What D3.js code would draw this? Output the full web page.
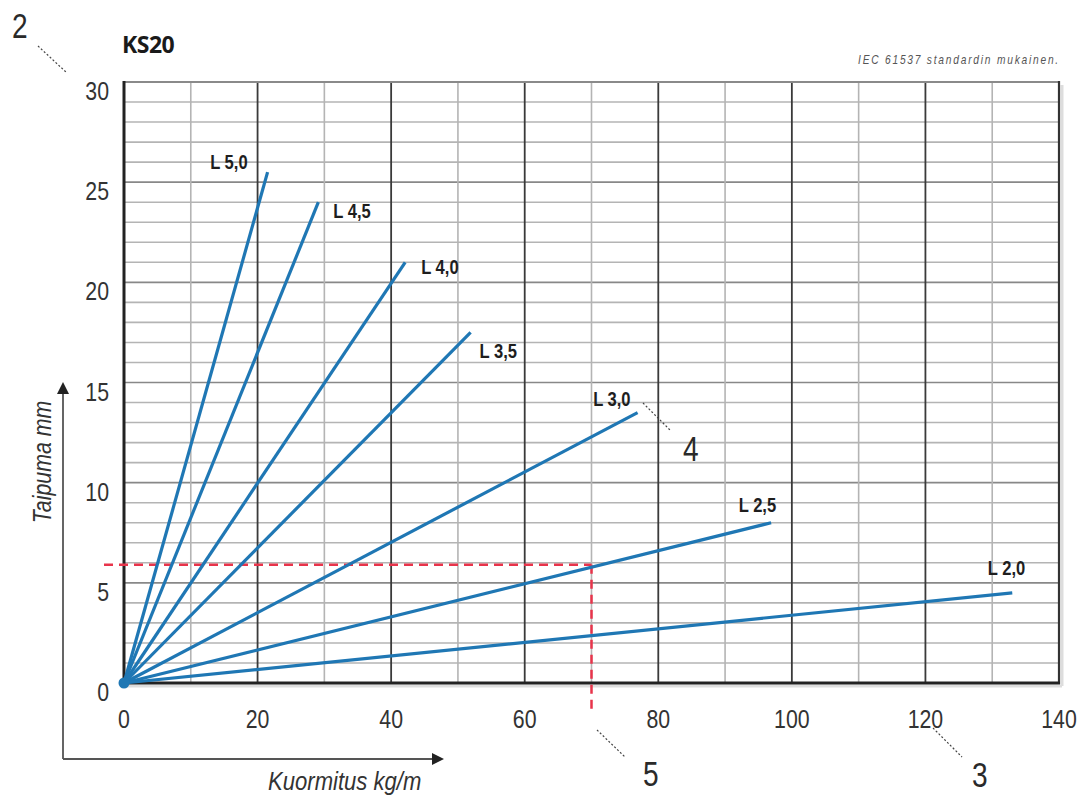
<!DOCTYPE html>
<html>
<head>
<meta charset="utf-8">
<script src="https://cdn.jsdelivr.net/npm/d3@7"></script>
<style>
  html, body { margin: 0; padding: 0; background: #fff; }
  svg { display: block; }
</style>
</head>
<body>
<svg id="chart" width="1080" height="796"></svg>
<script>
// ---------- data ----------
const chartTitle = "KS20";
const standardNote = "IEC 61537 standardin mukainen.";
const xAxisTitle = "Kuormitus kg/m";
const yAxisTitle = "Taipuma mm";
const loadTicks = [0, 20, 40, 60, 80, 100, 120, 140];
const deflectionTicks = [0, 5, 10, 15, 20, 25, 30];
const spanLabels = ["L 5,0", "L 4,5", "L 4,0", "L 3,5", "L 3,0", "L 2,5", "L 2,0"];
const endLoads = [21.5, 29.1, 42.1, 51.9, 76.9, 96.9, 133.0];
const endDeflections = [25.5, 24.0, 21.0, 17.5, 13.5, 8.0, 4.5];
const exampleLoad = 70;
const exampleDeflection = 5.9;
const calloutNumbers = ["2", "4", "5", "3"];

// ---------- layout / style ----------
const plot = { left: 124, right: 1059, top: 82, bottom: 683 };
const blue = "#1f77b4";
const red = "#e8344b";
const textCol = "#333";
const narrow = "'Liberation Sans Narrow', 'Liberation Sans', Arial, sans-serif";
// label offsets relative to line end: [dx, dy, anchor]
const labelOffsets = [[-20, -3, "end"], [15, 16, "start"], [16, 12, "start"], [9, 26, "start"],
                      [-7, -7, "end"], [5, -11, "end"], [13, -18, "end"]];
// callout positions: number [x, baseline], leader [x1,y1,x2,y2]
const callouts = [
  { num: [12, 38], lead: [38, 46, 67, 73] },
  { num: [683, 461], lead: [643, 403, 671, 431] },
  { num: [643, 786], lead: [597, 730, 625, 757] },
  { num: [972, 787], lead: [933, 728, 962, 757] }
];

const svg = d3.select("#chart");
const x = d3.scaleLinear().domain([0, 140]).range([plot.left, plot.right]);
const y = d3.scaleLinear().domain([0, 30]).range([plot.bottom, plot.top]);

function squeezedText(g, px, py, str, opts) {
  return g.append("text")
    .attr("transform", `translate(${px},${py}) rotate(${opts.rot || 0}) scale(${opts.sx || 1},1)`)
    .attr("text-anchor", opts.anchor || "start")
    .attr("font-family", opts.family || narrow)
    .attr("font-size", opts.size)
    .attr("font-weight", opts.weight || "normal")
    .attr("font-style", opts.style || "normal")
    .attr("letter-spacing", opts.ls || 0)
    .attr("fill", opts.fill || textCol)
    .text(str);
}

// ---------- shadow ----------
svg.append("line").attr("x1", plot.left + 3).attr("x2", plot.right + 3)
  .attr("y1", plot.bottom + 3).attr("y2", plot.bottom + 3)
  .attr("stroke", "#ddd").attr("stroke-width", 3);
svg.append("line").attr("x1", plot.right + 3).attr("x2", plot.right + 3)
  .attr("y1", plot.top + 3).attr("y2", plot.bottom + 3)
  .attr("stroke", "#ddd").attr("stroke-width", 3);

// ---------- grid ----------
const grid = svg.append("g");
const minorY = d3.range(1, 30).filter(v => v % 5 !== 0);
const majorY = d3.range(5, 30, 5);
grid.selectAll(".hmin").data(minorY).join("line")
  .attr("x1", plot.left).attr("x2", plot.right)
  .attr("y1", d => y(d)).attr("y2", d => y(d))
  .attr("stroke", "#b4b4b4").attr("stroke-width", 1.6);
grid.selectAll(".hmaj").data(majorY).join("line")
  .attr("x1", plot.left).attr("x2", plot.right)
  .attr("y1", d => y(d)).attr("y2", d => y(d))
  .attr("stroke", "#888").attr("stroke-width", 1.6);
const minorX = d3.range(10, 140, 20);
const majorX = d3.range(20, 140, 20);
grid.selectAll(".vmin").data(minorX).join("line")
  .attr("x1", d => x(d)).attr("x2", d => x(d))
  .attr("y1", plot.top).attr("y2", plot.bottom)
  .attr("stroke", "#b4b4b4").attr("stroke-width", 1.6);
grid.selectAll(".vmaj").data(majorX).join("line")
  .attr("x1", d => x(d)).attr("x2", d => x(d))
  .attr("y1", plot.top).attr("y2", plot.bottom)
  .attr("stroke", "#3a3a3a").attr("stroke-width", 1.8);
// borders
grid.append("line").attr("x1", plot.left).attr("x2", plot.right)
  .attr("y1", y(30)).attr("y2", y(30)).attr("stroke", "#8a8a8a").attr("stroke-width", 2.2);
grid.append("line").attr("x1", x(140)).attr("x2", x(140))
  .attr("y1", plot.top - 1).attr("y2", plot.bottom + 1).attr("stroke", "#333").attr("stroke-width", 2.2);
grid.append("line").attr("x1", plot.left).attr("x2", plot.right + 1)
  .attr("y1", y(0)).attr("y2", y(0)).attr("stroke", "#222").attr("stroke-width", 3);
grid.append("line").attr("x1", x(0)).attr("x2", x(0))
  .attr("y1", plot.top - 1).attr("y2", plot.bottom + 1).attr("stroke", "#222").attr("stroke-width", 3);

// ---------- tick labels ----------
const ticks = svg.append("g");
deflectionTicks.forEach(v => squeezedText(ticks, 109, y(v) + 18, String(v), { size: 26, sx: 0.82, anchor: "end" }));
loadTicks.forEach(v => squeezedText(ticks, x(v), 728, String(v), { size: 26, sx: 0.82, anchor: "middle" }));

// ---------- red example ----------
svg.append("line").attr("x1", x(0) - 20).attr("x2", x(exampleLoad))
  .attr("y1", y(exampleDeflection)).attr("y2", y(exampleDeflection))
  .attr("stroke", red).attr("stroke-width", 2.5).attr("stroke-dasharray", "9,6");
svg.append("line").attr("x1", x(exampleLoad)).attr("x2", x(exampleLoad))
  .attr("y1", y(exampleDeflection)).attr("y2", plot.bottom + 28)
  .attr("stroke", red).attr("stroke-width", 2.5).attr("stroke-dasharray", "9,6");

// ---------- series lines ----------
const series = spanLabels.map((lab, i) => ({ lab, pts: [[0, 0], [endLoads[i], endDeflections[i]]], i }));
const lineGen = d3.line().x(d => x(d[0])).y(d => y(d[1]));
svg.append("g").selectAll("path").data(series).join("path")
  .attr("d", d => lineGen(d.pts))
  .attr("fill", "none").attr("stroke", blue).attr("stroke-width", 3.2)
  .attr("stroke-linecap", "butt");
svg.append("circle").attr("cx", x(0)).attr("cy", y(0)).attr("r", 5.5).attr("fill", blue);

// labels
series.forEach(s => {
  const o = labelOffsets[s.i];
  squeezedText(svg, x(endLoads[s.i]) + o[0], y(endDeflections[s.i]) + o[1], s.lab,
    { size: 19.5, sx: 0.85, weight: "bold", anchor: o[2], fill: "#1e1e1e" });
});

// ---------- title & note ----------
svg.append("text").attr("x", 122).attr("y", 53)
  .attr("font-family", "'Open Sans', 'Noto Sans', sans-serif").attr("font-weight", "bold")
  .attr("font-size", 23).attr("fill", "#1a1a1a").attr("letter-spacing", -0.5).text(chartTitle);
squeezedText(svg, 1060, 64, standardNote, { size: 12, sx: 0.85, style: "italic", anchor: "end", ls: 2.1, fill: "#555" });

// ---------- axis arrows & titles ----------
const arrowCol = "#555";
svg.append("path").attr("d", `M63,759 L63,392 M63,759 L433,759`)
  .attr("fill", "none").attr("stroke", arrowCol).attr("stroke-width", 1.8);
svg.append("path").attr("d", "M63,382 L57,394 L69,394 Z").attr("fill", "#222");
svg.append("path").attr("d", "M444,759 L432,753 L432,765 Z").attr("fill", "#222");
squeezedText(svg, 268, 790, xAxisTitle, { size: 26, sx: 0.85, style: "italic" });
squeezedText(svg, 51, 462, yAxisTitle, { size: 26, sx: 0.82, style: "italic", rot: -90, anchor: "middle" });

// ---------- callouts ----------
callouts.forEach((c, i) => {
  svg.append("line").attr("x1", c.lead[0]).attr("y1", c.lead[1]).attr("x2", c.lead[2]).attr("y2", c.lead[3])
    .attr("stroke", "#444").attr("stroke-width", 1.2).attr("stroke-dasharray", "2,2");
  squeezedText(svg, c.num[0], c.num[1], calloutNumbers[i], { size: 36, sx: 0.78, fill: "#2a2a2a" });
});
</script>
</body>
</html>
